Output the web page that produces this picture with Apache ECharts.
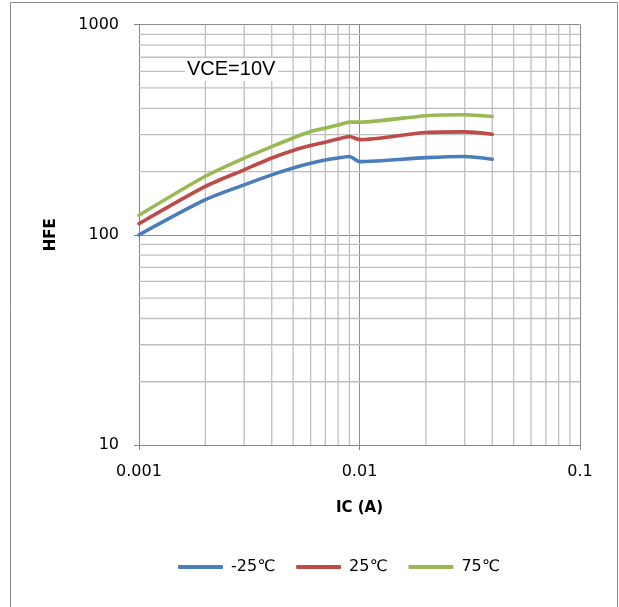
<!DOCTYPE html>
<html>
<head>
<meta charset="utf-8">
<script src="https://cdn.jsdelivr.net/npm/echarts@6/dist/echarts.min.js"></script>
<style>html,body{margin:0;padding:0;background:#fff;}#c{width:619px;height:607px;}</style>
</head>
<body>
<div id="c"></div>
<script>
const ic = [0.001, 0.002, 0.003, 0.004, 0.005, 0.006, 0.007, 0.008, 0.009, 0.01, 0.02, 0.03, 0.04];
const hfeM25 = [100, 147, 173, 193, 208, 219, 227, 232, 236, 223, 233, 236, 229];
const hfe25 = [113, 170, 204, 232, 252, 266, 276, 286, 294, 284, 307, 309, 301];
const hfe75 = [124, 190, 232, 263, 289, 310, 322, 333, 344, 344, 369, 373, 366];
const seriesNames = ['-25℃', '25℃', '75℃'];
const xTickValues = [0.001, 0.01, 0.1];
const xTickLabels = ['0.001', '0.01', '0.1'];
const yTickValues = [10, 100, 1000];
const yTickLabels = ['10', '100', '1000'];
const xMinor = [0.002,0.003,0.004,0.005,0.006,0.007,0.008,0.009,0.02,0.03,0.04,0.05,0.06,0.07,0.08,0.09];
const yMinor = [20,30,40,50,60,70,80,90,200,300,400,500,600,700,800,900];
const annotation = 'VCE=10V';

const colors = ['#4A7EBB', '#BE4B48', '#98B954'];
const font = 'DejaVu Sans';
const X_MIN = xTickValues[0], X_MAX = xTickValues[xTickValues.length - 1];
const Y_MIN = yTickValues[0], Y_MAX = yTickValues[yTickValues.length - 1];

function pick(vals, labels, v) {
  let best = 0, bd = Infinity;
  vals.forEach((t, i) => { const d = Math.abs(Math.log10(t) - Math.log10(v)); if (d < bd) { bd = d; best = i; } });
  return bd < 0.01 ? labels[best] : '';
}
function pairs(ys) { return ic.map((x, i) => [x, ys[i]]); }

const minorStyle = {stroke: '#BFBFBF', lineWidth: 1.3};
function gridSeries(vals, vertical) {
  return {
    type: 'custom', silent: true, z: 1, clip: false,
    data: vals.map(v => [v]),
    encode: vertical ? {x: 0} : {y: 0},
    renderItem: (params, api) => {
      const v = api.value(0);
      const a = vertical ? api.coord([v, Y_MIN]) : api.coord([X_MIN, v]);
      const b = vertical ? api.coord([v, Y_MAX]) : api.coord([X_MAX, v]);
      return {type: 'line', shape: {x1: a[0], y1: a[1], x2: b[0], y2: b[1]}, style: minorStyle, silent: true};
    }
  };
}

const chart = echarts.init(document.getElementById('c'), null, {renderer: 'canvas'});
chart.setOption({
  animation: false,
  backgroundColor: '#fff',
  grid: {left: 139, right: 39, top: 24.7, bottom: 162},
  xAxis: {
    type: 'log', logBase: 10, min: X_MIN, max: X_MAX,
    name: 'IC (A)', nameLocation: 'middle', nameGap: 56,
    nameTextStyle: {fontFamily: font, fontWeight: 'bold', fontSize: 15, color: '#000'},
    axisLine: {show: true, lineStyle: {color: '#868686', width: 1}},
    axisTick: {show: true, inside: false, length: 5, lineStyle: {color: '#868686'}},
    axisLabel: {fontFamily: font, fontSize: 16, color: '#000', margin: 19,
      formatter: v => pick(xTickValues, xTickLabels, v)},
    splitLine: {show: true, lineStyle: {color: '#8C8C8C', width: 1}},
    minorTick: {show: false}, minorSplitLine: {show: false}
  },
  yAxis: {
    type: 'log', logBase: 10, min: Y_MIN, max: Y_MAX,
    name: 'HFE', nameLocation: 'middle', nameGap: 80, nameRotate: 90,
    nameTextStyle: {fontFamily: font, fontWeight: 'bold', fontSize: 15, color: '#000'},
    axisLine: {show: true, lineStyle: {color: '#868686', width: 1}},
    axisTick: {show: true, inside: false, length: 5, lineStyle: {color: '#868686'}},
    axisLabel: {fontFamily: font, fontSize: 16, color: '#000', margin: 20,
      formatter: v => pick(yTickValues, yTickLabels, v)},
    splitLine: {show: true, lineStyle: {color: '#8C8C8C', width: 1}},
    minorTick: {show: false}, minorSplitLine: {show: false}
  },
  legend: {
    data: seriesNames, left: 173, top: 554, icon: 'roundRect',
    itemWidth: 45, itemHeight: 4, itemGap: 21,
    textStyle: {fontFamily: font, fontSize: 16, color: '#000', padding: [0, 0, 0, 3]}
  },
  graphic: [
    {type: 'rect', silent: true, z: -10, shape: {x: 10.5, y: 2.5, width: 607, height: 610},
      style: {fill: null, stroke: '#8C8C8C', lineWidth: 1}},
    {type: 'text', left: 185, top: 58, silent: true, z: 50,
      style: {text: annotation, font: '20px "Liberation Sans"', fill: '#000',
        backgroundColor: '#fff', padding: [1, 3, 2, 2]}}
  ],
  series: [
    gridSeries(xMinor, true),
    gridSeries(yMinor, false),
    ...[hfeM25, hfe25, hfe75].map((ys, i) => ({
      type: 'line', name: seriesNames[i], data: pairs(ys), z: 3,
      smooth: 0.25, showSymbol: false, symbol: 'none',
      color: colors[i],
      lineStyle: {color: colors[i], width: 3.6, cap: 'round', join: 'round'}
    }))
  ]
});
</script>
</body>
</html>
